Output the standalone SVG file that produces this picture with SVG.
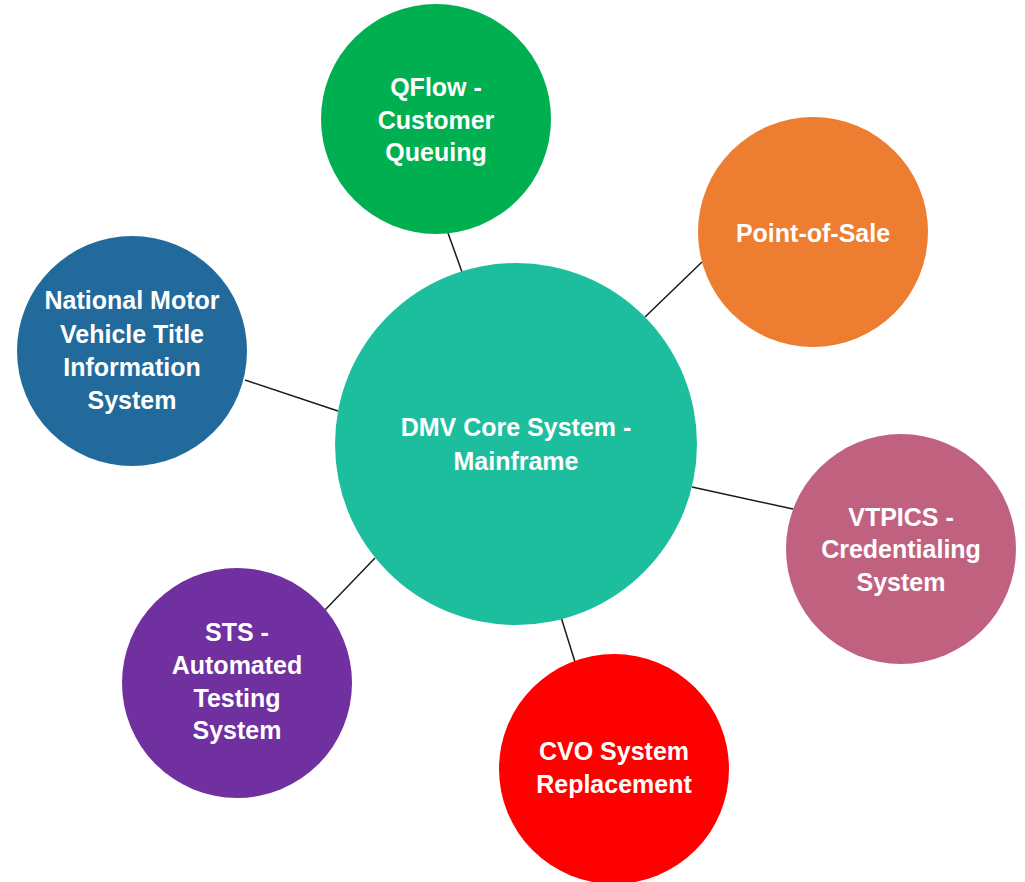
<svg xmlns="http://www.w3.org/2000/svg" width="1025" height="882" viewBox="0 0 1025 882">
<style>
.lbl{font-family:"Liberation Sans",Arial,sans-serif;font-size:25px;font-weight:bold;fill:#ffffff;text-anchor:middle}
.conn line{stroke:#1a1a1a;stroke-width:1.5}
</style>
<rect width="1025" height="882" fill="#ffffff"/>
<g id="connectors" class="conn">
<line x1="448" y1="233" x2="462" y2="272"/>
<line x1="645" y1="317" x2="702" y2="262"/>
<line x1="245" y1="380" x2="338" y2="411"/>
<line x1="692" y1="487" x2="793" y2="509"/>
<line x1="325" y1="610" x2="375" y2="558"/>
<line x1="561" y1="617" x2="575" y2="662"/>
</g>
<g id="core">
<circle cx="516" cy="444" r="181" fill="#1DBE9E"/>
<text class="lbl" x="516" y="436">DMV Core System -</text>
<text class="lbl" x="516" y="470">Mainframe</text>
</g>
<g id="qflow">
<circle cx="436" cy="119" r="115" fill="#00B050"/>
<text class="lbl" x="436" y="96">QFlow -</text>
<text class="lbl" x="436" y="129">Customer</text>
<text class="lbl" x="436" y="161">Queuing</text>
</g>
<g id="pos">
<circle cx="813" cy="232" r="115" fill="#ED7D31"/>
<text class="lbl" x="813" y="242">Point-of-Sale</text>
</g>
<g id="nmvtis">
<circle cx="132" cy="351" r="115" fill="#226A9C"/>
<text class="lbl" x="132" y="309">National Motor</text>
<text class="lbl" x="132" y="343">Vehicle Title</text>
<text class="lbl" x="132" y="376">Information</text>
<text class="lbl" x="132" y="409">System</text>
</g>
<g id="vtpics">
<circle cx="901" cy="549" r="115" fill="#C0627F"/>
<text class="lbl" x="901" y="526">VTPICS -</text>
<text class="lbl" x="901" y="558">Credentialing</text>
<text class="lbl" x="901" y="591">System</text>
</g>
<g id="sts">
<circle cx="237" cy="683" r="115" fill="#7030A0"/>
<text class="lbl" x="237" y="641">STS -</text>
<text class="lbl" x="237" y="674">Automated</text>
<text class="lbl" x="237" y="707">Testing</text>
<text class="lbl" x="237" y="739">System</text>
</g>
<g id="cvo">
<circle cx="614" cy="769" r="115" fill="#FF0000"/>
<text class="lbl" x="614" y="760">CVO System</text>
<text class="lbl" x="614" y="793">Replacement</text>
</g>
</svg>
